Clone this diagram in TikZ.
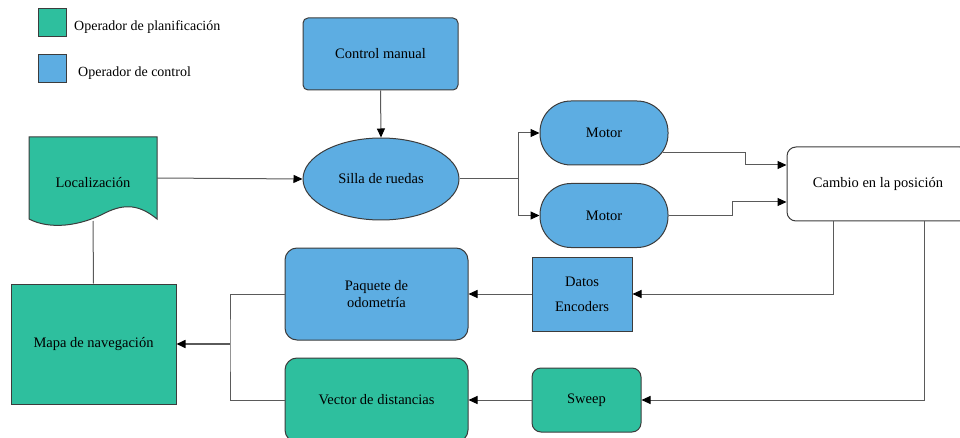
\documentclass[tikz,border=0pt]{standalone}
\usepackage{fontspec}
\setmainfont{Liberation Serif}
\usetikzlibrary{shapes.geometric,arrows.meta}
\definecolor{verde}{HTML}{2EBF9E}
\definecolor{azul}{HTML}{5DADE2}
\definecolor{borde}{HTML}{3C3C3C}
\definecolor{gris}{HTML}{5A5A5A}
\tikzset{
  bloque/.style={draw=borde, line width=1pt, align=center, inner sep=2pt,
    font=\fontsize{14.5}{17}\selectfont},
  planif/.style={bloque, fill=verde},
  ctrlop/.style={bloque, fill=azul},
  flecha/.style={draw=gris, line width=1pt, -{Triangle[length=9pt,width=8pt,color=black]}},
  enlace/.style={draw=gris, line width=1pt},
  leyenda/.style={anchor=west, inner sep=2pt, font=\fontsize{14}{16}\selectfont},
}
\begin{document}
\begin{tikzpicture}[x=1pt,y=-1pt]
    \useasboundingbox (0,0) rectangle (960,438);
    \clip (0,0) rectangle (960,438);

    % Leyenda
    \node[planif, minimum size=28pt] (legplan) at (52,23) {};
    \node[leyenda] (legplantxt) at (72,27) {Operador de planificación};
    \node[ctrlop, minimum size=28pt] (legctrl) at (52,68.5) {};
    \node[leyenda] (legctrltxt) at (76,73) {Operador de control};

    % Localizacion (forma de documento)
    \draw[draw=borde, line width=1pt, fill=verde] (29,137) -- (157,137) -- (157,219)
        .. controls (140,205) and (125,203) .. (105,213)
        .. controls (80,226) and (50,230) .. (29,219) -- cycle;
    \node[font=\fontsize{14.5}{17}\selectfont] (loc) at (93,183) {Localización};
    \coordinate (locE) at (157,178);
    \coordinate (locS) at (93,221);

    % Bloques
    \node[ctrlop, rounded corners=5pt, minimum width=155pt, minimum height=72pt] (manual) at (380.5,54) {Control manual};
    \node[ctrlop, ellipse, inner sep=0pt, minimum width=156pt, minimum height=82pt] (silla) at (381,179) {Silla de ruedas};
    \node[ctrlop, rounded corners=31pt, minimum width=128pt, minimum height=64pt] (motorA) at (604,133) {Motor};
    \node[ctrlop, rounded corners=31pt, minimum width=128pt, minimum height=64pt] (motorB) at (604,215.5) {Motor};
    \node[bloque, fill=white, rounded corners=9pt, minimum width=182pt, minimum height=74pt] (cambio) at (878,184) {Cambio en la posición};
    \node[ctrlop, minimum width=100pt, minimum height=74pt, font=\fontsize{14.5}{25}\selectfont] (datos) at (582,294) {Datos\\Encoders};
    \node[ctrlop, rounded corners=12pt, minimum width=183pt, minimum height=92pt] (paquete) at (376.5,294) {Paquete de\\odometría};
    \node[planif, rounded corners=12pt, minimum width=183pt, minimum height=84pt] (vector) at (376.5,400) {Vector de distancias};
    \node[planif, rounded corners=9pt, minimum width=109pt, minimum height=64pt] (sweep) at (586.5,400) {Sweep};
    \node[planif, minimum width=165pt, minimum height=120pt] (mapa) at (93.5,344) {Mapa de navegación};

    % Conexiones
    \draw[flecha] (manual.south) -- (silla.north);
    \draw[flecha] (locE) -- (silla.west);
    \draw[enlace] (locS) -- (mapa.north);
    \coordinate (bifur) at (518,179);
    \draw[enlace] (silla.east) -- (bifur);
    \draw[flecha] (bifur) |- (motorA.west);
    \draw[flecha] (bifur) |- (motorB.west);
    \draw[flecha] ([xshift=-6pt,yshift=-20pt]motorA.east) -- ++(83,0) |- ([yshift=19pt]cambio.west);
    \draw[flecha] (motorB.east) -- ++(64,0) |- ([yshift=-18pt]cambio.west);
    \draw[flecha] ([xshift=-45pt]cambio.south) |- (datos.east);
    \draw[flecha] ([xshift=46pt]cambio.south) |- (sweep.east);
    \draw[flecha] (datos) -- (paquete);
    \draw[flecha] (sweep) -- (vector);
    \coordinate (union) at (230,344);
    \draw[enlace] (paquete.west) -| (union) |- (vector.west);
    \draw[flecha, line width=1.6pt] (union) -- (mapa.east);
\end{tikzpicture}
\end{document}
